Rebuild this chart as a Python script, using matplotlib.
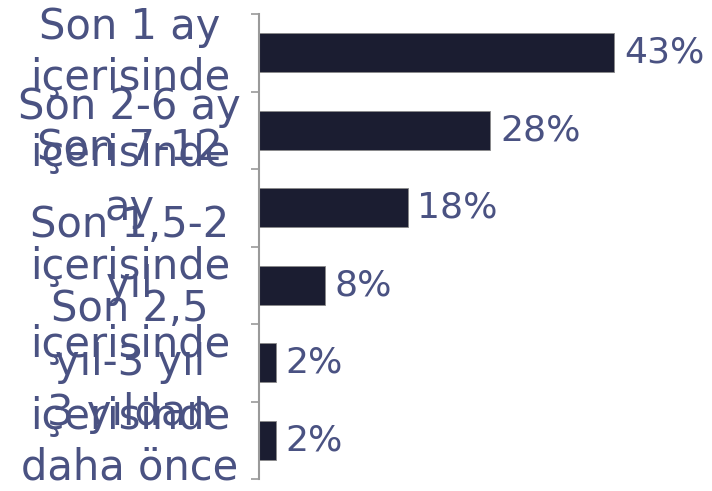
import numpy as np
import matplotlib.pyplot as plt

categories = ["Son 1 ay\niçerisinde",
              "Son 2-6 ay\niçerisinde",
              "Son 7-12\nay\niçerisinde",
              "Son 1,5-2\nyıl\niçerisinde",
              "Son 2,5\nyıl-3 yıl\niçerisinde",
              "3 yıldan\ndaha önce"]
values = [43, 28, 18, 8, 2, 2]
value_labels = ["43%", "28%", "18%", "8%", "2%", "2%"]

bar_color = "#1b1d31"
text_color = "#4a5282"
axis_color = "#9a9a9a"

fig = plt.figure(figsize=(7.12, 4.91), dpi=100)
ax = fig.add_axes([259/712, 12/491, 441/712, 465/491])

y = np.arange(len(categories))
ax.barh(y, values, height=0.5, color=bar_color, edgecolor="#8a8a8a", linewidth=0.6)
ax.set_ylim(len(categories) - 0.5, -0.5)
ax.set_xlim(0, 441/8.26)

for yi, v, lab in zip(y, values, value_labels):
    ax.annotate(lab, (v, yi), xytext=(7, 0), textcoords="offset points",
                ha="left", va="center", fontsize=26, color=text_color)

# labels at the bar centres, tick marks at the category borders
ax.set_yticks(y)
ax.set_yticklabels(categories, fontsize=30, color=text_color, ha="center")
ax.tick_params(axis="y", which="major", length=0, pad=93)
ax.set_yticks(np.arange(-0.5, len(categories)), minor=True)
ax.tick_params(axis="y", which="minor", length=6, width=1.2, color=axis_color)

# the wrapped labels don't all share the same line gap
for lbl, ls in zip(ax.get_yticklabels(), [1.27, 1.14, 1.53, 1.55, 1.37, 1.40]):
    lbl.set_linespacing(ls)
    lbl.set_va("center")

ax.set_xticks([])
for s in ["top", "right", "bottom"]:
    ax.spines[s].set_visible(False)
ax.spines["left"].set_color(axis_color)
ax.spines["left"].set_linewidth(1.5)

fig.savefig("out.png", dpi=100)
